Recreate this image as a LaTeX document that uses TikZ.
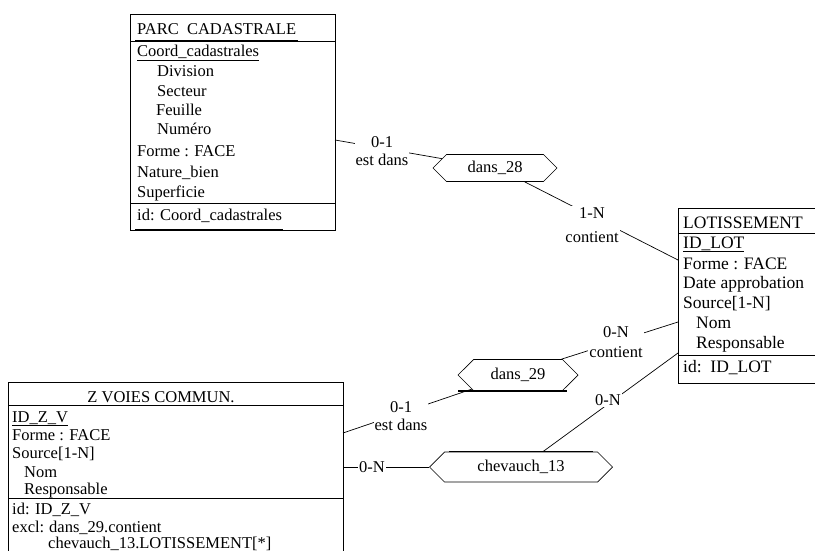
\documentclass[tikz,border=0pt]{standalone}
\usepackage{fontspec}
\setmainfont{Liberation Serif}
\usetikzlibrary{shapes.symbols}
\tikzset{
  ent/.style={draw, line width=0.7pt, inner sep=0pt, anchor=north west},
  row/.style={anchor=base west, inner sep=0pt, font=\fontsize{16.5}{19}\selectfont},
  rowL/.style={anchor=base west, inner sep=0pt, font=\fontsize{17.5}{20}\selectfont},
  rel/.style={draw, line width=0.7pt, shape=signal, signal to=east and west, signal pointer angle=90, inner sep=0pt, font=\fontsize{16.5}{19}\selectfont},
  lab/.style={fill=white, align=center, inner sep=1pt, font=\fontsize{16.5}{18}\selectfont},
  link/.style={line width=0.7pt},
  sep/.style={line width=0.7pt},
  heavy/.style={line width=1.6pt},
}
\begin{document}
\begin{tikzpicture}[x=1pt,y=-1pt]
\useasboundingbox (0,0) rectangle (815,551);
\clip (0,0) rectangle (815,551);
% ---------- PARC CADASTRALE ----------
\node[ent, minimum width=205pt, minimum height=216pt] (parc) at (130,14) {};
\draw[sep] (parc.west |- 0,41) -- (parc.east |- 0,41);
\draw[heavy] (135,41) -- (298,41);
\draw[sep] (parc.west |- 0,203) -- (parc.east |- 0,203);
\draw[heavy] (135,230) -- (283,230);
\node[row] (p0) at (137,35) {PARC\ \ CADASTRALE};
\node[row] (p1) at (137,57) {\underline{Coord\_cadastrales}};
\node[row] (p2) at (157,77) {Division};
\node[row] (p3) at (157,96) {Secteur};
\node[row] (p4) at (156,116) {Feuille};
\node[row] (p5) at (157,135) {Numéro};
\node[row] (p6) at (137,157) {Forme : FACE};
\node[row] (p7) at (137,177) {Nature\_bien};
\node[row] (p8) at (137,197) {Superficie};
\node[row] (p9) at (137,220) {id: Coord\_cadastrales};
% ---------- LOTISSEMENT ----------
\node[ent, minimum width=150pt, minimum height=175pt] (lot) at (678,208) {};
\draw[sep] (lot.west |- 0,233) -- (lot.east |- 0,233);
\draw[sep] (lot.west |- 0,355) -- (lot.east |- 0,355);
\node[rowL] (t0) at (683,228) {LOTISSEMENT};
\node[rowL] (t1) at (683,248) {\underline{ID\_LOT}};
\node[rowL] (t2) at (683,269) {Forme : FACE};
\node[rowL] (t3) at (683,288) {Date approbation};
\node[rowL] (t4) at (683,308) {Source[1-N]};
\node[rowL] (t5) at (696,328) {Nom};
\node[rowL] (t6) at (696,348) {Responsable};
\node[rowL] (t7) at (683,372) {id:\ \ ID\_LOT};
% ---------- Z VOIES COMMUN. ----------
\node[ent, minimum width=335pt, minimum height=200pt] (zv) at (8,382) {};
\draw[sep] (zv.west |- 0,405) -- (zv.east |- 0,405);
\draw[sep] (zv.west |- 0,498) -- (zv.east |- 0,498);
\node[row, anchor=base] (z0) at (161,402) {Z VOIES COMMUN.};
\node[row] (z1) at (12,422) {\underline{ID\_Z\_V}};
\node[row] (z2) at (12,440) {Forme : FACE};
\node[row] (z3) at (12,458) {Source[1-N]};
\node[row] (z4) at (24,477) {Nom};
\node[row] (z5) at (24,494) {Responsable};
\node[row] (z6) at (12,514) {id: ID\_Z\_V};
\node[row] (z7) at (12,532) {excl:};
\node[row] (z8) at (49,532) {dans\_29.contient};
\node[row] (z9) at (48,548) {chevauch\_13.LOTISSEMENT[*]};
% ---------- relationships ----------
\node[rel, minimum width=124pt, minimum height=27pt] (d28) at (495,168) {dans\_28};
\node[rel, minimum width=120pt, minimum height=31pt] (d29) at (518,375) {dans\_29};
\node[rel, minimum width=183pt, minimum height=30pt] (c13) at (521,467) {chevauch\_13};
\draw[heavy] ([xshift=-60pt]d29.south) -- ([xshift=49pt]d29.south);
\draw[line width=1.3pt] ([xshift=-72pt]c13.north) -- ([xshift=72pt]c13.north);
% ---------- anchors on entity borders ----------
\coordinate (parcE) at (335,140);
\coordinate (lotW1) at (678,260);
\coordinate (lotW2) at (678,322);
\coordinate (lotW3) at (678,353);
\coordinate (zE1) at (343,433);
\coordinate (zE2) at (343,467);
% ---------- links ----------
\draw[link] (parcE) -- (d28.170);
\node[lab] (l1) at (382,151) {0-1\\est dans};
\draw[link] (d28.-25) -- (lotW1);
\node[lab] (l2) at (592,225) {1-N\\[6pt]contient};
\draw[link] (d29.20) -- (lotW2);
\node[lab] (l3) at (616,342) {0-N\\[2pt]contient};
\draw[link] (c13.35) -- (lotW3);
\node[lab] (l4) at (608,400) {0-N};
\draw[link] (zE1) -- (d29.197);
\node[lab] (l5) at (401,416) {0-1\\est dans};
\draw[link] (zE2) -- (c13.west);
\node[lab] (l6) at (372,467) {0-N};
\end{tikzpicture}
\end{document}
